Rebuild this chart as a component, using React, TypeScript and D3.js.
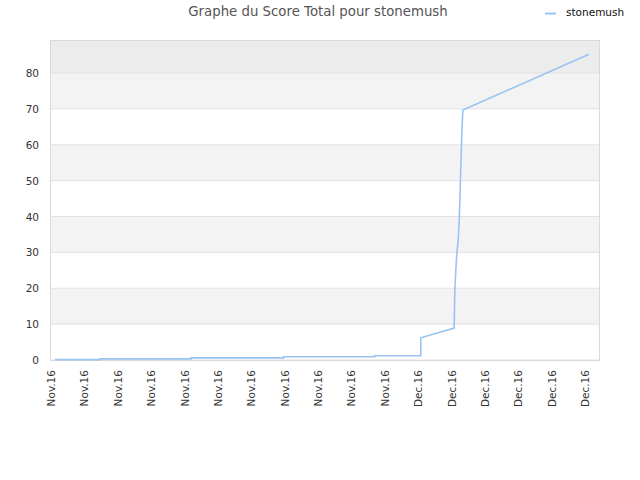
import React from 'react';
import * as d3 from 'd3';

// tick labels along the x axis (one per tick, evenly spaced)
const tickLabels: string[] = [
    'Nov.16', 'Nov.16', 'Nov.16', 'Nov.16', 'Nov.16', 'Nov.16', 'Nov.16', 'Nov.16',
    'Nov.16', 'Nov.16', 'Nov.16', 'Dec.16', 'Dec.16', 'Dec.16', 'Dec.16', 'Dec.16', 'Dec.16',
];

// position of each point, in tick units
const positions: number[] = [
    0, 1.35, 1.35, 4.08, 4.08, 6.85, 6.85, 9.58, 9.58, 10.96, 10.96,
    11.96, 11.98, 12.01, 12.04, 12.08, 12.11, 12.14, 12.16, 12.19, 12.22, 16,
];
// total score
const scores: number[] = [
    0.1, 0.1, 0.3, 0.3, 0.6, 0.6, 0.9, 0.9, 1.2, 1.2, 6.2,
    8.9, 19.5, 25.1, 29.8, 33.4, 38.5, 47.4, 54, 63.2, 69.7, 85.2,
];

const yTicks: number[] = [0, 10, 20, 30, 40, 50, 60, 70, 80];

const seriesName = 'stonemush';
const title = 'Graphe du Score Total pour stonemush';

const width = 640;
const height = 480;
const plot = { left: 50, right: 600, top: 40, bottom: 360 };
const font = '"DejaVu Sans", Verdana, sans-serif';

const App: React.FC = () => {
    const x = d3.scaleLinear()
        .domain([0, tickLabels.length - 1])
        .range([55, 589]);

    const y = d3.scaleLinear()
        .domain([0, 89.2])
        .range([plot.bottom, plot.top]);

    const points = positions.map((p, i) => [p, scores[i]] as [number, number]);

    const line = d3.line<[number, number]>()
        .x(d => x(d[0]))
        .y(d => y(d[1]));

    // bands between grid lines, the top one a little darker
    const bands = yTicks.map((t, i) => {
        const top = i === yTicks.length - 1 ? y.domain()[1] : yTicks[i + 1];
        let fill = i % 2 === 1 ? '#f3f3f3' : '#ffffff';
        if (i === yTicks.length - 1) fill = '#ececec';
        return { y0: y(t), y1: y(top), fill };
    });

    return (
        <svg width={width} height={height} style={{ position: 'absolute', left: 0, top: 0, background: '#fff' }}>
            <text x={318} y={16} textAnchor="middle" fontFamily={font} fontSize={13.3} fill="#555">
                {title}
            </text>

            {/* legend */}
            <line x1={545} x2={556} y1={13.5} y2={13.5} stroke="#99c4f2" strokeWidth={2} />
            <text x={566} y={16} fontFamily={font} fontSize={10.5} fill="#111">{seriesName}</text>

            {bands.map((b, i) => (
                <rect key={i} x={plot.left} y={b.y1} width={plot.right - plot.left} height={b.y0 - b.y1} fill={b.fill} />
            ))}
            {yTicks.map(t => (
                <line key={t} x1={plot.left} x2={plot.right} y1={y(t)} y2={y(t)} stroke="#e2e2e2" />
            ))}
            <rect x={plot.left + 0.5} y={plot.top + 0.5} width={plot.right - plot.left - 1} height={plot.bottom - plot.top}
                  fill="none" stroke="#d9d9d9" />

            {yTicks.map(t => (
                <text key={t} x={39} y={y(t) + 4} textAnchor="end" fontFamily={font} fontSize={10.5} fill="#333">{t}</text>
            ))}

            {tickLabels.map((lbl, i) => (
                <text key={i} transform={`translate(${x(i)},${370}) rotate(-90)`} textAnchor="end"
                      fontFamily={font} fontSize={10.5} fill="#333">{lbl}</text>
            ))}

            <path d={line(points) ?? ''} fill="none" stroke="#99c4f2" strokeWidth={1.6} />
        </svg>
    );
};

export default App;
